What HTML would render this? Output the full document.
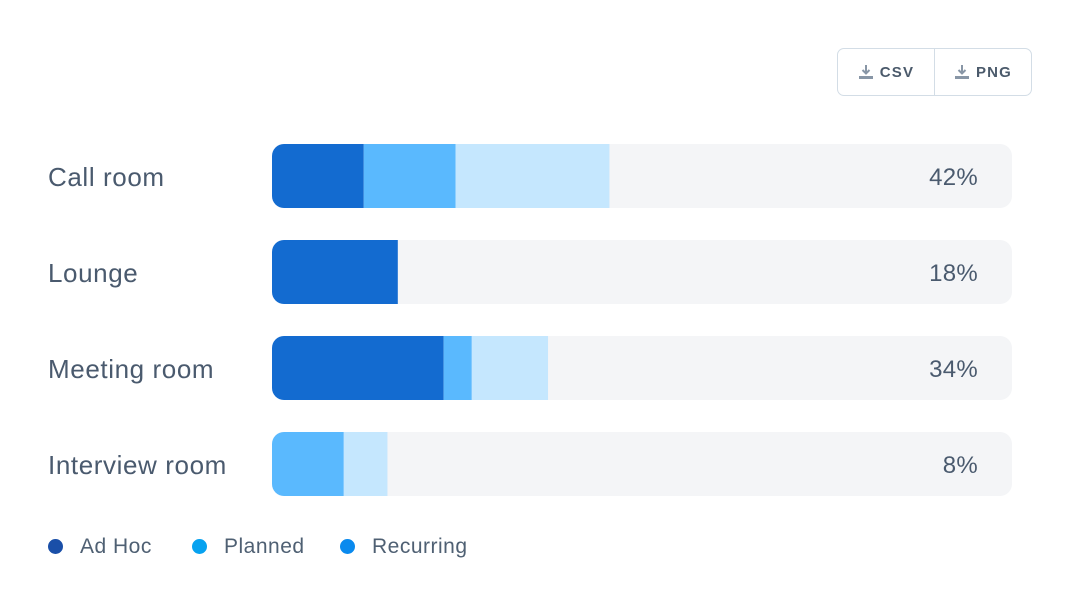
<!DOCTYPE html>
<html><head><meta charset="utf-8"><style>
body{margin:0;width:1080px;height:608px;background:#fff;font-family:"Liberation Sans",sans-serif;position:relative;overflow:hidden}
.btns{position:absolute;left:837px;top:48px;width:195px;height:48px;border:1.5px solid #d3dde6;border-radius:7px;box-sizing:border-box;display:flex}
.btn{flex:1;display:flex;align-items:center;justify-content:center;font-weight:bold;font-size:15px;letter-spacing:1.2px;color:#4b5a6b;gap:6px}
.btn+.btn{border-left:1.5px solid #d3dde6}
.lbl{position:absolute;left:48px;font-size:26px;letter-spacing:0.6px;color:#4a5a6e}
.val{position:absolute;font-size:24px;letter-spacing:0.3px;color:#4a5a6e}
.leg{position:absolute;top:535px;font-size:21px;letter-spacing:0.5px;color:#4f6073}
.dot{position:absolute;top:539px;width:15px;height:15px;border-radius:50%}
</style></head><body>
<div class="btns">
<div class="btn"><svg width="16" height="16" viewBox="0 0 16 16"><path d="M8 1v8M4.5 6l3.5 3.5L11.5 6" stroke="#8896a6" stroke-width="2" fill="none"/><rect x="1" y="12" width="14" height="3" fill="#8896a6"/></svg>CSV</div>
<div class="btn"><svg width="16" height="16" viewBox="0 0 16 16"><path d="M8 1v8M4.5 6l3.5 3.5L11.5 6" stroke="#8896a6" stroke-width="2" fill="none"/><rect x="1" y="12" width="14" height="3" fill="#8896a6"/></svg>PNG</div>
</div>
<svg id="chart" width="1080" height="608" style="position:absolute;left:0;top:0;pointer-events:none"></svg>
<div id="labels"></div>
<div class="dot" style="left:48px;background:#1a4fa8"></div>
<div class="leg" style="left:80px">Ad Hoc</div>
<div class="dot" style="left:192px;background:#07a2f0"></div>
<div class="leg" style="left:224px">Planned</div>
<div class="dot" style="left:340px;background:#0a8aee"></div>
<div class="leg" style="left:372px">Recurring</div>
<script>
const categories=["Call room","Lounge","Meeting room","Interview room"];
const adHoc=[12.4,17,23.2,0];
const planned=[12.4,0,3.8,9.7];
const recurring=[20.8,0,10.3,5.9];
const totals=["42%","18%","34%","8%"];
const colors=["#136bd0","#5ab9fe","#c5e7fe"];
const NS="http://www.w3.org/2000/svg";
const svg=document.getElementById('chart');
const x0=272,trackW=740,maxV=100,rowH=64,rowGap=96,y0=144;
function xs(v){return v/maxV*trackW;}
function yr(i){return y0+i*rowGap;}
const defs=document.createElementNS(NS,'defs');svg.appendChild(defs);
const labels=document.getElementById('labels');
categories.forEach((c,i)=>{
  const y=yr(i);
  const cp=document.createElementNS(NS,'clipPath');cp.setAttribute('id','cp'+i);
  const cr=document.createElementNS(NS,'rect');
  cr.setAttribute('x',x0);cr.setAttribute('y',y);cr.setAttribute('width',trackW);cr.setAttribute('height',rowH);cr.setAttribute('rx',12);
  cp.appendChild(cr);defs.appendChild(cp);
  const g=document.createElementNS(NS,'g');g.setAttribute('clip-path','url(#cp'+i+')');
  const t=document.createElementNS(NS,'rect');
  
  
  t.setAttribute('x',x0);t.setAttribute('y',y);t.setAttribute('width',trackW);t.setAttribute('height',rowH);t.setAttribute('fill','#f4f5f7');
  g.appendChild(t);
  let x=x0;
  [adHoc[i],planned[i],recurring[i]].forEach((v,k)=>{
    if(v<=0)return;
    const r=document.createElementNS(NS,'rect');
    
    
    r.setAttribute('x',x);r.setAttribute('y',y);r.setAttribute('width',xs(v));r.setAttribute('height',rowH);r.setAttribute('fill',colors[k]);
    g.appendChild(r);x+=xs(v);
  });
  svg.appendChild(g);
  const l=document.createElement('div');l.className='lbl';l.style.top=(y+18)+'px';l.textContent=c;
  
  
  labels.appendChild(l);
  const v=document.createElement('div');v.className='val';v.style.top=(y+20)+'px';v.style.right=(1080-978)+'px';v.textContent=totals[i];
  
  
  labels.appendChild(v);
});
</script>
</body></html>
